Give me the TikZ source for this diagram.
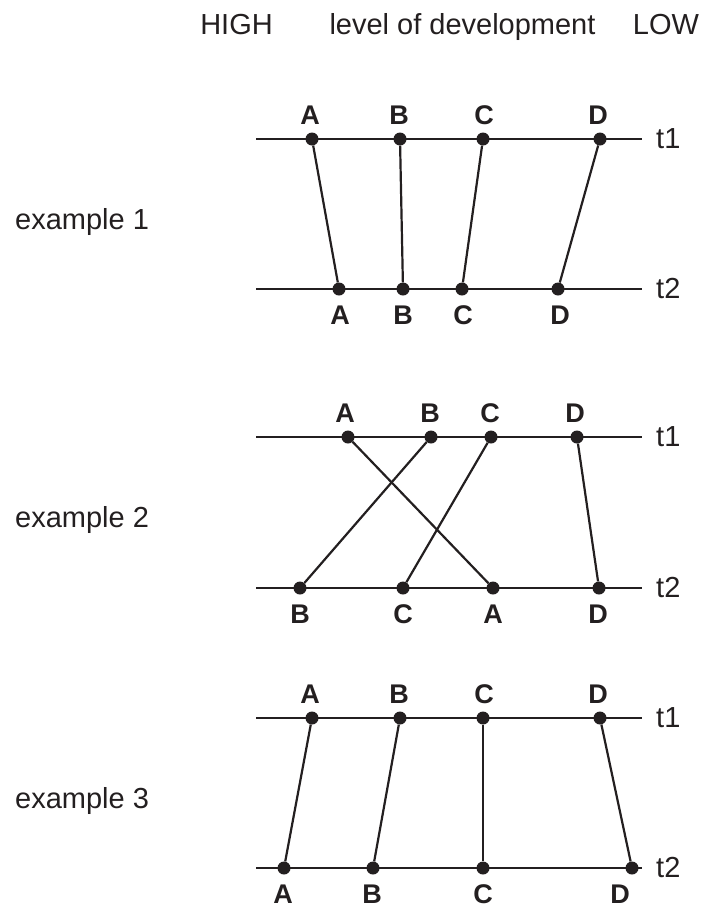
\documentclass[tikz,border=0pt]{standalone}
\usepackage{fontspec}
\setmainfont{Liberation Sans}
\usetikzlibrary{backgrounds}
\definecolor{ink}{RGB}{35,31,32}
\begin{document}
\begin{tikzpicture}[x=1pt,y=-1pt,
  txt/.style={font=\fontsize{29}{34}\selectfont, text=ink, inner sep=0pt},
  lbl/.style={font=\fontsize{27}{32}\selectfont\bfseries, text=ink, inner sep=0pt, anchor=base},
  dot/.style={circle, fill=ink, inner sep=0pt, minimum size=13pt},
  ln/.style={line width=2.2pt, draw=ink}]
\useasboundingbox (0,0) rectangle (707,911);

% header
\node[txt, anchor=base] (high) at (236.5,34) {HIGH};
\node[txt, anchor=base] (lev) at (462.5,34) {level of development};
\node[txt, anchor=base] (low) at (666,34) {LOW};

% ===== example 1 =====
\node[txt, anchor=base west] (ex1) at (15,229) {example 1};
\coordinate (e1L1) at (256,139); \coordinate (e1R1) at (642,139);
\coordinate (e1L2) at (256,289); \coordinate (e1R2) at (642,289);
\node[txt, anchor=base west] (e1t1) at (656,148) {t1};
\node[txt, anchor=base west] (e1t2) at (656,298) {t2};
\node[dot] (e1a1) at (312,139) {}; \node[dot] (e1b1) at (400,139) {};
\node[dot] (e1c1) at (483,139) {}; \node[dot] (e1d1) at (600,139) {};
\node[dot] (e1a2) at (339,289) {}; \node[dot] (e1b2) at (403,289) {};
\node[dot] (e1c2) at (462,289) {}; \node[dot] (e1d2) at (558,289) {};
\node[lbl] (e1la1) at (310,124) {A}; \node[lbl] (e1lb1) at (399,124) {B};
\node[lbl] (e1lc1) at (484,124) {C}; \node[lbl] (e1ld1) at (598,124) {D};
\node[lbl] (e1la2) at (340,324) {A}; \node[lbl] (e1lb2) at (403,324) {B};
\node[lbl] (e1lc2) at (463,324) {C}; \node[lbl] (e1ld2) at (560,324) {D};

% ===== example 2 =====
\node[txt, anchor=base west] (ex2) at (15,527) {example 2};
\coordinate (e2L1) at (256,437); \coordinate (e2R1) at (642,437);
\coordinate (e2L2) at (256,588); \coordinate (e2R2) at (642,588);
\node[txt, anchor=base west] (e2t1) at (656,446) {t1};
\node[txt, anchor=base west] (e2t2) at (656,597) {t2};
\node[dot] (e2a1) at (348,437) {}; \node[dot] (e2b1) at (431,437) {};
\node[dot] (e2c1) at (491,437) {}; \node[dot] (e2d1) at (577,437) {};
\node[dot] (e2b2) at (300,588) {}; \node[dot] (e2c2) at (403,588) {};
\node[dot] (e2a2) at (493,588) {}; \node[dot] (e2d2) at (599,588) {};
\node[lbl] (e2la1) at (345,422) {A}; \node[lbl] (e2lb1) at (430,422) {B};
\node[lbl] (e2lc1) at (490,422) {C}; \node[lbl] (e2ld1) at (575,422) {D};
\node[lbl] (e2lb2) at (300,623) {B}; \node[lbl] (e2lc2) at (403,623) {C};
\node[lbl] (e2la2) at (493,623) {A}; \node[lbl] (e2ld2) at (598,623) {D};

% ===== example 3 =====
\node[txt, anchor=base west] (ex3) at (15,808) {example 3};
\coordinate (e3L1) at (256,718); \coordinate (e3R1) at (642,718);
\coordinate (e3L2) at (256,868); \coordinate (e3R2) at (642,868);
\node[txt, anchor=base west] (e3t1) at (656,727) {t1};
\node[txt, anchor=base west] (e3t2) at (656,877) {t2};
\node[dot] (e3a1) at (312,718) {}; \node[dot] (e3b1) at (400,718) {};
\node[dot] (e3c1) at (483,718) {}; \node[dot] (e3d1) at (600,718) {};
\node[dot] (e3a2) at (284,868) {}; \node[dot] (e3b2) at (373,868) {};
\node[dot] (e3c2) at (483,868) {}; \node[dot] (e3d2) at (632,868) {};
\node[lbl] (e3la1) at (310,703) {A}; \node[lbl] (e3lb1) at (399,703) {B};
\node[lbl] (e3lc1) at (484,703) {C}; \node[lbl] (e3ld1) at (598,703) {D};
\node[lbl] (e3la2) at (283,903) {A}; \node[lbl] (e3lb2) at (372,903) {B};
\node[lbl] (e3lc2) at (483,903) {C}; \node[lbl] (e3ld2) at (620,903) {D};

\begin{scope}[on background layer]
  \draw[ln] (e1L1) -- (e1R1); \draw[ln] (e1L2) -- (e1R2);
  \draw[ln] (e2L1) -- (e2R1); \draw[ln] (e2L2) -- (e2R2);
  \draw[ln] (e3L1) -- (e3R1); \draw[ln] (e3L2) -- (e3R2);
  \draw[ln] (e1a1) -- (e1a2); \draw[ln] (e1b1) -- (e1b2);
  \draw[ln] (e1c1) -- (e1c2); \draw[ln] (e1d1) -- (e1d2);
  \draw[ln] (e2a1) -- (e2a2); \draw[ln] (e2b1) -- (e2b2);
  \draw[ln] (e2c1) -- (e2c2); \draw[ln] (e2d1) -- (e2d2);
  \draw[ln] (e3a1) -- (e3a2); \draw[ln] (e3b1) -- (e3b2);
  \draw[ln] (e3c1) -- (e3c2); \draw[ln] (e3d1) -- (e3d2);
\end{scope}
\end{tikzpicture}
\end{document}
